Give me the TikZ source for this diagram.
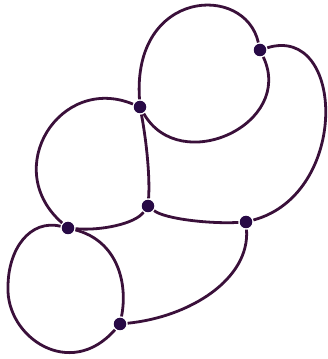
\documentclass[tikz,border=0pt]{standalone}
\definecolor{ink}{RGB}{58,16,58}
\definecolor{dotink}{RGB}{40,10,70}
\begin{document}
\begin{tikzpicture}[x=1pt, y=1pt, line width=2.8pt,
    vertex/.style={circle, fill=dotink, inner sep=0pt, minimum size=12.5pt}]
    \useasboundingbox (0,0) rectangle (328,359);
    \node[vertex] (a) at (260,309) {};
    \node[vertex] (b) at (140,252) {};
    \node[vertex] (c) at (148,153) {};
    \node[vertex] (d) at (68,131) {};
    \node[vertex] (e) at (246,137) {};
    \node[vertex] (f) at (120,35) {};
    \draw[ink] (b) .. controls (132,370) and (245,376) .. (a);
    \draw[ink] (a) .. controls (295,235) and (180,182) .. (b);
    \draw[ink] (a) .. controls (345,335) and (350,165) .. (e);
    \draw[ink] (b) .. controls (60,285) and (0,190) .. (d);
    \draw[ink] (b) .. controls (147,215) and (150,180) .. (c);
    \draw[ink] (c) .. controls (135,135) and (100,128) .. (d);
    \draw[ink] (c) .. controls (165,140) and (210,135) .. (e);
    \draw[ink] (d) .. controls (30,140) and (8,110) .. (8,72)
        .. controls (6,22) and (70,-22) .. (f);
    \draw[ink] (d) .. controls (118,118) and (128,75) .. (f);
    \draw[ink] (f) .. controls (190,42) and (250,80) .. (e);
\end{tikzpicture}
\end{document}
